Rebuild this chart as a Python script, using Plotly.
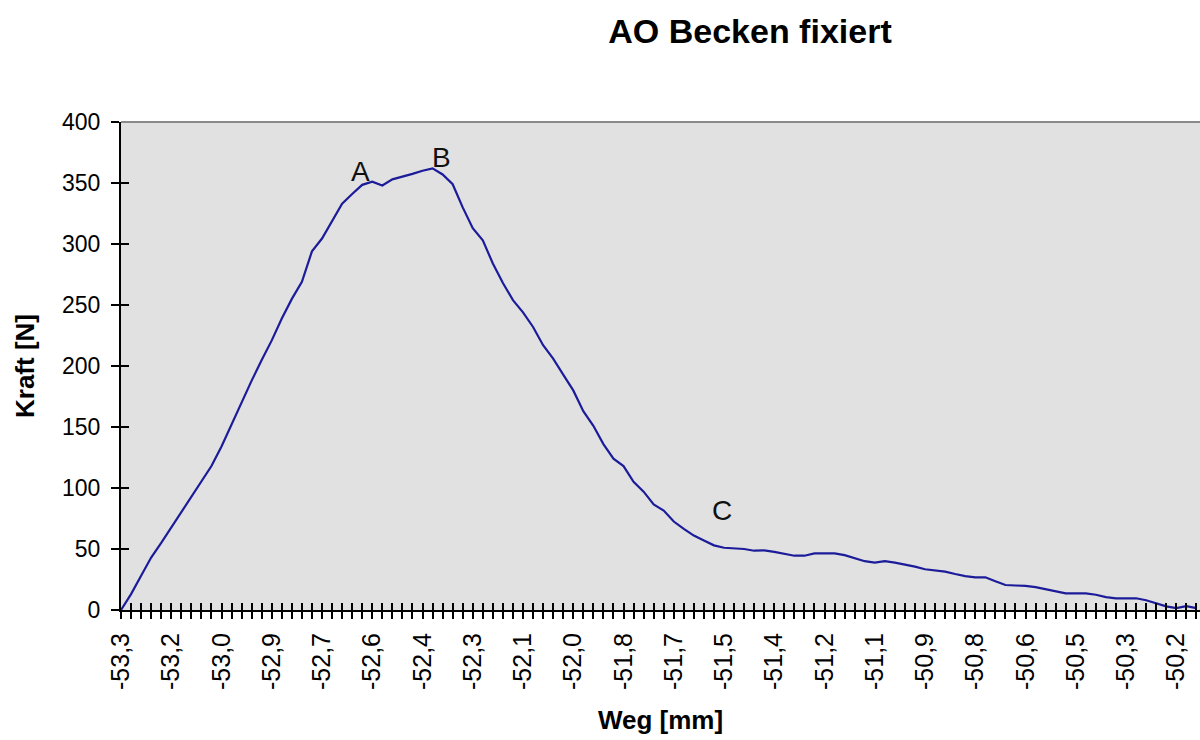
import plotly.graph_objects as go

# Force readings (N), one per category step of the travel axis
kraft = [
    0, 13, 28, 43, 55, 67.5, 79.5, 92.5, 105, 118,
    134, 152.5, 169.5, 188, 205, 221, 239, 255, 269, 294,
    304.5, 319, 333, 341, 348.5, 351, 348, 353, 355, 357.5,
    360, 362, 357, 349, 330, 313, 303, 284, 268, 254,
    244, 232, 217, 206, 193, 180, 163, 151, 136, 124,
    118, 105, 97, 86.5, 81.5, 72.5, 66.5, 61, 57, 53,
    51, 50.5, 50, 48.6, 48.8, 47.6, 46.3, 44.5, 44.5, 46.4,
    46.4, 46.4, 45, 42.8, 40, 38.8, 40, 38.8, 37.3, 35.5,
    33.4, 32.6, 31.5, 29.5, 27.8, 26.8, 26.8, 23.5, 20.5, 20.1,
    19.8, 18.8, 17.3, 15.5, 13.7, 13.6, 13.6, 12.5, 10.5, 9.6,
    9.6, 9.6, 8, 5.5, 3, 1.5, 3.2, 1.5,
]

# Travel (Weg) tick labels, shown every 5th category
weg_labels = [
    "-53,3", "-53,2", "-53,0", "-52,9", "-52,7", "-52,6", "-52,4", "-52,3",
    "-52,1", "-52,0", "-51,8", "-51,7", "-51,5", "-51,4", "-51,2", "-51,1",
    "-50,9", "-50,8", "-50,6", "-50,5", "-50,3", "-50,2",
]
label_every = 5

# Point markers A, B, C
marker_labels = ["A", "B", "C"]
marker_index = [25, 31, 60]

y_ticks = [0, 50, 100, 150, 200, 250, 300, 350, 400]

n = len(kraft)
cats = list(range(n))
tickvals = cats
ticktext = [weg_labels[i // label_every] if i % label_every == 0 and i // label_every < len(weg_labels) else "" for i in cats]

FONT = "Liberation Sans, Arial, sans-serif"
xrange = [0, 107.36]
yrange = [0, 400]

fig = go.Figure()
fig.add_trace(go.Scatter(
    x=cats, y=kraft, mode="lines",
    line=dict(color="#1c1c9a", width=2.2),
    showlegend=False, hoverinfo="x+y",
))
# invisible trace carrying the overlay axes (inside half of the cross ticks)
fig.add_trace(go.Scatter(
    x=cats, y=kraft, mode="lines", xaxis="x2", yaxis="y2",
    line=dict(width=0, color="rgba(0,0,0,0)"), showlegend=False, hoverinfo="skip",
))

shifts = {"A": (-12, 10), "B": (9, 11), "C": (-2, 37)}
annotations = []
for lab, idx in zip(marker_labels, marker_index):
    dx, dy = shifts[lab]
    annotations.append(dict(
        x=idx, y=kraft[idx], xref="x", yref="y", text=lab, showarrow=False,
        xanchor="center", yanchor="middle", xshift=dx, yshift=dy,
        font=dict(family=FONT, size=28, color="#111111"),
    ))

fig.update_layout(
    width=1200, height=740,
    margin=dict(l=121, r=0, t=122, b=130, autoexpand=False),
    paper_bgcolor="white",
    plot_bgcolor="#e1e1e1",
    font=dict(family=FONT, color="black"),
    title=dict(
        text="<b>AO Becken fixiert</b>", x=750 / 1200, xref="container", xanchor="center",
        y=1 - 31 / 740, yref="container", yanchor="middle",
        font=dict(family=FONT, size=34, color="black"),
    ),
    xaxis=dict(
        range=xrange, tickmode="array", tickvals=tickvals, ticktext=ticktext,
        tickangle=-90, ticks="outside", ticklen=7, tickwidth=2, tickcolor="black",
        showline=True, linecolor="black", linewidth=2, showgrid=False, zeroline=False,
        tickfont=dict(family=FONT, size=25, color="black"), ticklabelstandoff=4,
        title=dict(text="<b>Weg [mm]</b>", font=dict(family=FONT, size=26, color="black"), standoff=22),
        automargin=False,
    ),
    xaxis2=dict(
        overlaying="x", anchor="y", side="bottom", range=xrange,
        tickmode="array", tickvals=tickvals, showticklabels=False,
        ticks="inside", ticklen=7, tickwidth=2, tickcolor="black",
        showline=False, showgrid=False, zeroline=False,
    ),
    yaxis=dict(
        range=yrange, tickmode="array", tickvals=y_ticks,
        ticks="outside", ticklen=8, tickwidth=2, tickcolor="black",
        showline=True, linecolor="black", linewidth=2, showgrid=False, zeroline=False,
        tickfont=dict(family=FONT, size=23, color="black"), ticklabelstandoff=6,
        title=dict(text="<b>Kraft [N]</b>", font=dict(family=FONT, size=26, color="black"), standoff=20),
        automargin=False,
    ),
    yaxis2=dict(
        overlaying="y", anchor="x", side="left", range=yrange,
        tickmode="array", tickvals=y_ticks, showticklabels=False,
        ticks="inside", ticklen=8, tickwidth=2, tickcolor="black",
        showline=False, showgrid=False, zeroline=False,
    ),
    annotations=annotations,
    shapes=[dict(
        type="line", xref="paper", yref="paper", x0=0, x1=1, y0=1, y1=1,
        line=dict(color="#8a8a8a", width=2), layer="below",
    )],
)

fig.write_html("out.html")
